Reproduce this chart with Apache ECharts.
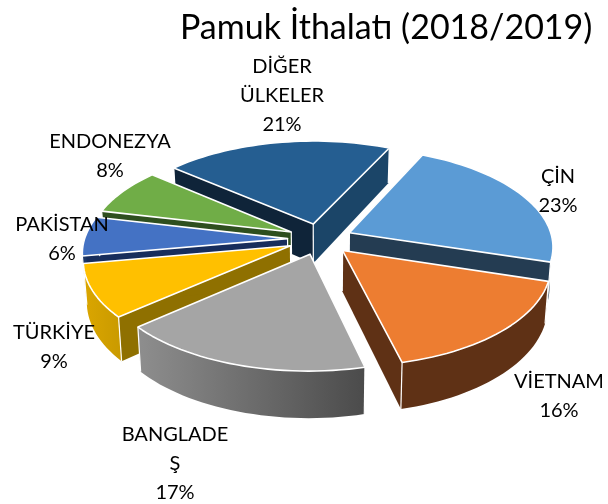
<!DOCTYPE html>
<html>
<head>
<meta charset="utf-8">
<script src="https://cdn.jsdelivr.net/npm/echarts@6/dist/echarts.min.js"></script>
<style>
  html, body { margin: 0; padding: 0; background: #fff; }
  #main { width: 608px; height: 504px; }
</style>
</head>
<body>
<div id="main"></div>
<script>
// veriler
const categories = ['ÇİN', 'VİETNAM', 'BANGLADE\nŞ', 'TÜRKİYE', 'PAKİSTAN', 'ENDONEZYA', 'DİĞER\nÜLKELER'];
const shares = [22.8, 16.4, 17.4, 8.6, 6.4, 7.6, 20.7];

// dilim renkleri
const topColors = ['#5b9bd5', '#ed7d31', '#a5a5a5', '#ffc000', '#4472c4', '#70ad47', '#255e91'];
const sideLeft = ['#243c52', '#5f3115', '#8e8e8e', '#dba600', '#1d3767', '#2f4f1f', '#102539'];
const sideRight = ['#243c52', '#5f3115', '#4b4b4b', '#c99a00', '#1d3767', '#2f4f1f', '#102539'];
const startWall = ['#23394f', '#5f3115', '#5f5f5f', '#8f7000', '#172d5c', '#2e4f1f', '#0f2439'];
const endWall = ['#243c52', '#5f3115', '#5f5f5f', '#8f7000', '#172d5c', '#2e4f1f', '#1b4568'];

// etiket konumlari
const labelCenters = [[558, 176], [559, 381], [175, 434], [54, 332], [62, 224], [110, 141], [282, 66]];

// pasta geometrisi
const cx = 320, cy = 239, radius = 203, tilt = 0.48, persp = 0.13;
const explode = 0.16, depth = 40, startDeg = 25;

const total = shares.reduce((a, b) => a + b, 0);
const rad = Math.PI / 180;

// dilim baslangic / bitis acilari
const slices = [];
let acc = startDeg;
shares.forEach(function (v) {
  const span = v / total * 360;
  slices.push({ from: acc, to: acc + span, mid: acc + span / 2 });
  acc += span;
});

// 3B noktayi ekrana izdusur
function project(i, deg, r, bottom) {
  const m = slices[i].mid * rad;
  const X = explode * Math.sin(m) + r * Math.sin(deg * rad);
  const Y = -explode * Math.cos(m) - r * Math.cos(deg * rad);
  const w = 1 / (1 - Y * persp);
  let x = cx + X * radius * w;
  let y = cy + Y * radius * tilt * w;
  if (bottom) {
    x = cx + (x - cx) * 0.985;
    y += depth * w;
  }
  return [x, y];
}

function arc(i, a, b, bottom) {
  const pts = [];
  const n = Math.max(2, Math.ceil(Math.abs(b - a) / 2));
  for (let k = 0; k <= n; k++) {
    pts.push(project(i, a + (b - a) * k / n, 1, bottom));
  }
  return pts;
}

function poly(points, fill, z2, lineWidth) {
  return {
    type: 'polygon',
    z2: z2,
    shape: { points: points },
    style: { fill: fill, stroke: lineWidth ? '#fff' : null, lineWidth: lineWidth, lineJoin: 'round' }
  };
}

function edge(p, q, z2) {
  return {
    type: 'polyline',
    z2: z2,
    shape: { points: [p, q] },
    style: { fill: null, stroke: '#fff', lineWidth: 1.2 }
  };
}

function renderSlice(params, api) {
  const i = api.value(0);
  const s = slices[i];
  const rank = params.dataIndex * 10;
  const children = [];
  const apex = project(i, s.from, 0, false);
  const apexB = project(i, s.from, 0, true);
  const a = project(i, s.from, 1, false), aB = project(i, s.from, 1, true);
  const b = project(i, s.to, 1, false), bB = project(i, s.to, 1, true);

  // yan duvarlar
  children.push(poly([apex, a, aB, apexB], startWall[i], rank + 1, 0));
  children.push(poly([apex, b, bB, apexB], endWall[i], rank + 2, 0));

  // dis duvar, sadece one bakan kisim
  const ranges = [[90, 270], [450, 630]];
  ranges.forEach(function (rg) {
    const f = Math.max(s.from, rg[0]), t = Math.min(s.to, rg[1]);
    if (t > f) {
      const pts = arc(i, f, t, false).concat(arc(i, t, f, true));
      children.push(poly(pts, new echarts.graphic.LinearGradient(0, 0, 1, 0, [
        { offset: 0, color: sideLeft[i] },
        { offset: 1, color: sideRight[i] }
      ]), rank + 3, 0));
    }
  });

  // dikey beyaz kenarlar
  children.push(edge(apex, apexB, rank + 4));
  children.push(edge(a, aB, rank + 4));
  children.push(edge(b, bB, rank + 4));

  // ust yuzey
  children.push(poly([apex].concat(arc(i, s.from, s.to, false)), topColors[i], rank + 5, 1.6));
  return { type: 'group', children: children };
}

// arkadan one dogru cizim sirasi
const drawOrder = slices.map((s, i) => i).sort(function (p, q) {
  return -Math.cos(slices[p].mid * rad) + Math.cos(slices[q].mid * rad);
});

const labelGraphics = categories.map(function (name, i) {
  return {
    type: 'text',
    x: labelCenters[i][0],
    y: labelCenters[i][1] - 14,
    style: {
      text: name + '\n' + Math.round(shares[i]) + '%',
      fill: '#000',
      font: '20px Lato',
      lineHeight: 29,
      align: 'center',
      verticalAlign: 'top'
    },
    z: 20
  };
});

const chart = echarts.init(document.getElementById('main'), null, { renderer: 'canvas' });
chart.setOption({
  animation: false,
  backgroundColor: '#fff',
  title: {
    text: 'Pamuk İthalatı (2018/2019)',
    left: 175,
    top: 6,
    textStyle: { fontFamily: 'Lato', fontSize: 34, fontWeight: 'normal', color: '#000' }
  },
  series: [{
    type: 'custom',
    coordinateSystem: 'none',
    renderItem: renderSlice,
    data: drawOrder.map(i => [i]),
    silent: true
  }],
  graphic: labelGraphics
});
</script>
</body>
</html>
